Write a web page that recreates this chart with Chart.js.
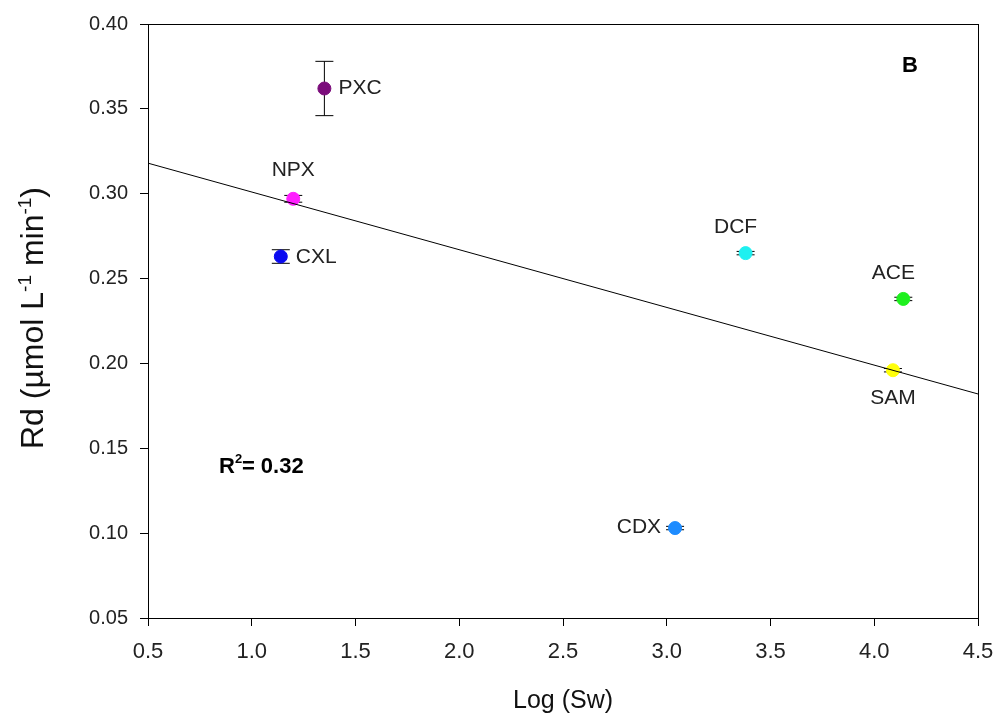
<!DOCTYPE html>
<html>
<head>
<meta charset="utf-8">
<script src="https://cdn.jsdelivr.net/npm/chart.js@4.4.1/dist/chart.umd.min.js"></script>
<style>
  html, body { margin: 0; padding: 0; background: #fff; }
  #wrap { width: 993px; height: 717px; position: relative; }
</style>
</head>
<body>
<div id="wrap"><canvas id="chart"></canvas></div>
<script>
// ═══ DATA ═══
const compounds = ['PXC', 'NPX', 'CXL', 'DCF', 'ACE', 'SAM', 'CDX'];
const logSw     = [1.35, 1.20, 1.14, 3.38, 4.14, 4.09, 3.04];
const rd        = [0.362, 0.297, 0.263, 0.265, 0.238, 0.196, 0.103];
const rdErr     = [0.016, 0.002, 0.004, 0.001, 0.001, 0.001, 0.001];
const colors    = ['#7B0C7B', '#FF1EFF', '#0A0AF0', '#1EF0F0', '#1EF01E', '#FFFF0A', '#1E8CFF'];
const fitX      = [0.5, 4.5];
const fitY      = [0.318, 0.182];
const xTicks    = [0.5, 1.0, 1.5, 2.0, 2.5, 3.0, 3.5, 4.0, 4.5];
const yTicks    = [0.05, 0.10, 0.15, 0.20, 0.25, 0.30, 0.35, 0.40];

// label placement around each marker: side + pixel offset
const labelPos = {
  PXC: { align: 'left',   dx: 14,  dy: 0 },
  NPX: { align: 'center', dx: 0,   dy: -29 },
  CXL: { align: 'left',   dx: 15,  dy: 1 },
  DCF: { align: 'center', dx: -10, dy: -26 },
  ACE: { align: 'center', dx: -10, dy: -26 },
  SAM: { align: 'center', dx: 0,   dy: 28 },
  CDX: { align: 'right',  dx: -14, dy: -1 }
};

const FONT = "'Liberation Sans', Arial, sans-serif";

// ═══ ERROR BARS, LABELS, FRAME ═══
const extras = {
  id: 'extras',
  beforeDatasetsDraw(chart) {
    const { ctx, scales: { x, y } } = chart;
    ctx.save();
    ctx.strokeStyle = '#000';
    ctx.lineWidth = 1;
    compounds.forEach((c, i) => {
      const px = x.getPixelForValue(logSw[i]);
      const top = y.getPixelForValue(rd[i] + rdErr[i]);
      const bot = y.getPixelForValue(rd[i] - rdErr[i]);
      ctx.beginPath();
      ctx.moveTo(px, top); ctx.lineTo(px, bot);
      ctx.moveTo(px - 9, top); ctx.lineTo(px + 9, top);
      ctx.moveTo(px - 9, bot); ctx.lineTo(px + 9, bot);
      ctx.stroke();
    });
    ctx.restore();
  },
  afterDraw(chart) {
    const { ctx, chartArea: a, scales: { x, y } } = chart;
    ctx.save();
    // frame
    ctx.strokeStyle = '#000';
    ctx.lineWidth = 1;
    ctx.strokeRect(a.left + 0.5, a.top + 0.5, a.right - a.left, a.bottom - a.top);

    // x tick labels (drawn here so they don't push the plot area inward)
    ctx.fillStyle = '#222';
    ctx.font = `22px ${FONT}`;
    ctx.textAlign = 'center';
    ctx.textBaseline = 'middle';
    xTicks.forEach(v => ctx.fillText(v.toFixed(1), x.getPixelForValue(v), a.bottom + 34));

    // point labels
    ctx.font = `21px ${FONT}`;
    compounds.forEach((c, i) => {
      const p = labelPos[c];
      ctx.textAlign = p.align;
      ctx.fillText(c, x.getPixelForValue(logSw[i]) + p.dx, y.getPixelForValue(rd[i]) + p.dy);
    });

    // panel letter and R²
    ctx.fillStyle = '#000';
    ctx.font = `bold 22px ${FONT}`;
    ctx.textAlign = 'center';
    ctx.fillText('B', 910, 66);
    ctx.textAlign = 'left';
    ctx.textBaseline = 'alphabetic';
    ctx.font = `bold 22px ${FONT}`;
    ctx.fillText('R', 219, 473);
    const rw = ctx.measureText('R').width;
    ctx.font = `bold 13px ${FONT}`;
    ctx.fillText('2', 219 + rw, 463);
    ctx.font = `bold 22px ${FONT}`;
    ctx.fillText('= 0.32', 219 + rw + 7, 473);

    // x title
    ctx.fillStyle = '#111';
    ctx.font = `25px ${FONT}`;
    ctx.textAlign = 'center';
    ctx.fillText('Log (Sw)', (a.left + a.right) / 2, 708);

    // y title with superscripts
    const parts = [
      ['Rd (µmol L', 32, 0], ['-1', 19, -12], [' min', 32, 0], ['-1', 19, -12], [')', 32, 0]
    ];
    let total = 0;
    parts.forEach(([t, s]) => { ctx.font = `${s}px ${FONT}`; total += ctx.measureText(t).width; });
    ctx.translate(43, 318);
    ctx.rotate(-Math.PI / 2);
    ctx.textAlign = 'left';
    let cx = -total / 2;
    parts.forEach(([t, s, off]) => {
      ctx.font = `${s}px ${FONT}`;
      ctx.fillText(t, cx, off);
      cx += ctx.measureText(t).width;
    });
    ctx.restore();
  }
};

// ═══ CHART ═══
const pointSets = compounds.map((c, i) => ({
  label: c,
  data: [{ x: logSw[i], y: rd[i] }],
  backgroundColor: colors[i],
  borderColor: colors[i],
  pointRadius: 6.5,
  pointHoverRadius: 6.5
}));

new Chart(document.getElementById('chart'), {
  type: 'scatter',
  data: {
    datasets: [
      {
        type: 'line',
        label: 'fit',
        data: fitX.map((v, i) => ({ x: v, y: fitY[i] })),
        borderColor: '#000',
        borderWidth: 1,
        pointRadius: 0,
        fill: false
      },
      ...pointSets
    ]
  },
  options: {
    responsive: true,
    maintainAspectRatio: false,
    animation: false,
    layout: { padding: { left: 0, right: 15, top: 19, bottom: 0 } },
    plugins: { legend: { display: false }, tooltip: { enabled: false } },
    scales: {
      x: {
        type: 'linear',
        min: 0.5, max: 4.5,
        afterBuildTicks: s => { s.ticks = xTicks.map(v => ({ value: v })); },
        afterFit: s => { s.height = 99; },
        border: { display: true, color: '#000' },
        grid: { drawOnChartArea: false, drawTicks: true, tickLength: 8, color: '#000' },
        ticks: { display: false }
      },
      y: {
        type: 'linear',
        min: 0.05, max: 0.40,
        afterBuildTicks: s => { s.ticks = yTicks.map(v => ({ value: v })); },
        afterFit: s => { s.width = 148; },
        border: { display: true, color: '#000' },
        grid: { drawOnChartArea: false, drawTicks: true, tickLength: 8, color: '#000' },
        ticks: {
          color: '#222', padding: 12,
          font: { family: FONT, size: 20 },
          callback: v => v.toFixed(2)
        }
      }
    }
  },
  plugins: [extras]
});
</script>
</body>
</html>
